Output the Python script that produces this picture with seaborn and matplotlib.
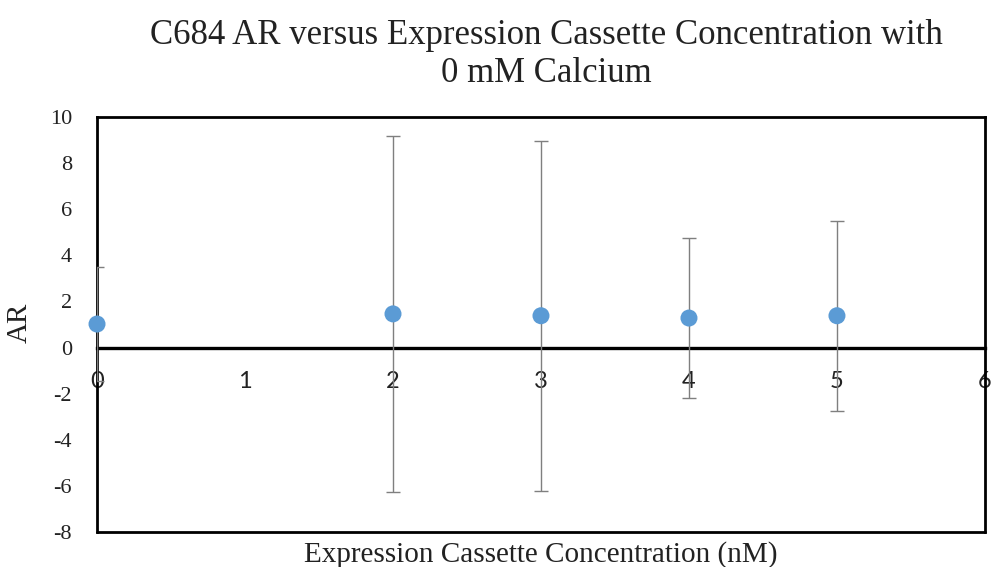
import matplotlib
matplotlib.use("Agg")
import matplotlib.pyplot as plt
import seaborn as sns
import pandas as pd

# Expression cassette concentration (nM) and measured AR with its error
concentration = [0, 2, 3, 4, 5]
ar_mean = [1.02, 1.46, 1.38, 1.28, 1.38]
ar_error = [2.49, 7.72, 7.59, 3.47, 4.11]

x_ticks = [0, 1, 2, 3, 4, 5, 6]
y_ticks = [-8, -6, -4, -2, 0, 2, 4, 6, 8, 10]

df = pd.DataFrame({"conc": concentration, "ar": ar_mean, "err": ar_error})

sns.set_theme(style="white")
serif = ["Liberation Serif", "DejaVu Serif"]
sans = ["Lato", "DejaVu Sans"]

fig = plt.figure(figsize=(9.91, 5.67), dpi=100)
ax = fig.add_axes([0.0979, 0.0617, 0.8960, 0.7320])

ax.errorbar(df["conc"], df["ar"], yerr=df["err"], fmt="none",
            ecolor="#7f7f7f", elinewidth=1.0, capsize=4.7, capthick=1.0,
            zorder=3)
sns.scatterplot(data=df, x="conc", y="ar", ax=ax, s=150, color="#5B9BD5",
                edgecolor="none", zorder=4, legend=False, clip_on=False)

# frame around the plot area, with the category axis crossing at zero
# (spine repositioning resets the ticks, so it goes before tick styling)
ax.spines["bottom"].set_position(("data", 0))
ax.spines["bottom"].set_color("black")
ax.spines["bottom"].set_linewidth(2.4)
ax.spines["bottom"].set_zorder(2.5)
for side in ["top", "left", "right"]:
    ax.spines[side].set_color("black")
    ax.spines[side].set_linewidth(2.0)
ax.plot([0, 1], [0, 0], transform=ax.transAxes, color="black", lw=2.0,
        clip_on=False, zorder=5)

ax.set_xlim(0, 6)
ax.set_ylim(-8, 10)
ax.set_xticks(x_ticks)
ax.set_yticks(y_ticks)
ax.set_xticklabels([str(t) for t in x_ticks], family=sans, fontsize=17,
                   color="#222222")
ax.set_yticklabels([str(t) for t in y_ticks], family=serif, fontsize=16,
                   color="#222222")
ax.tick_params(axis="both", length=0)
ax.tick_params(axis="x", pad=17)
ax.tick_params(axis="y", pad=18)

ax.set_xlabel("Expression Cassette Concentration (nM)", family=serif,
              fontsize=21, color="#222222")
ax.xaxis.set_label_coords(0.5, -0.022)
ax.set_ylabel("AR", family=serif, fontsize=21, color="#222222")
ax.yaxis.set_label_coords(-0.072, 0.504)

fig.text(0.551, 0.966,
         "C684 AR versus Expression Cassette Concentration with\n0 mM Calcium",
         ha="center", va="top", family=serif, fontsize=25, color="#222222",
         linespacing=1.17)

fig.savefig("out.png", dpi=100, facecolor="white")
